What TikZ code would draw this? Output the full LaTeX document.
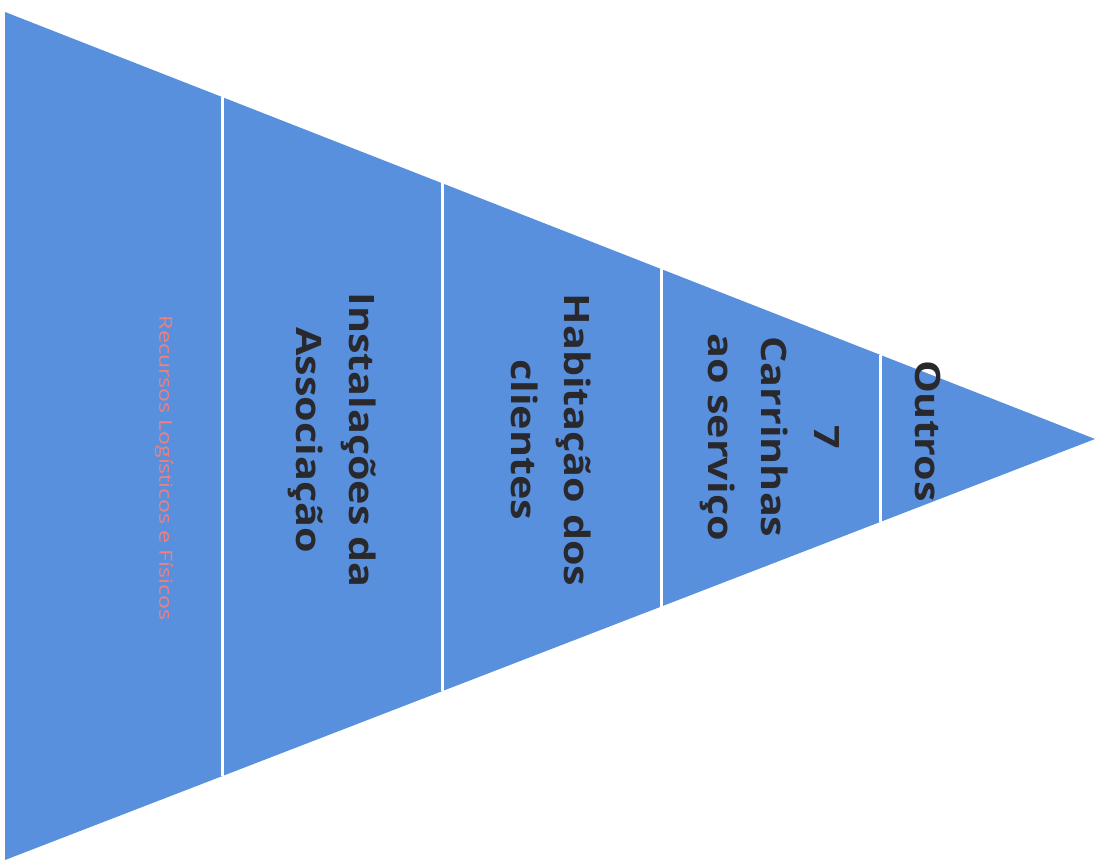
\documentclass[tikz,border=0pt]{standalone}
\usepackage{fontspec}
\setmainfont{Open Sans}
\newfontfamily\funnelfont[FakeStretch=1.18]{Open Sans}
\newfontfamily\notefont[FakeStretch=1.28]{Open Sans}
\definecolor{funnelblue}{RGB}{88,144,222}
\definecolor{labelgray}{RGB}{40,40,45}
\definecolor{salmon}{RGB}{240,128,128}
\begin{document}
\begin{tikzpicture}[x=0.5pt, y=-0.5pt,
    level/.style={rotate=-90, align=center, text=labelgray, inner sep=0pt,
        font=\funnelfont\bfseries\fontsize{17.5}{26.5}\selectfont},
    sepline/.style={white, line width=1.5pt}]
            \useasboundingbox (0,0) rectangle (1096,861);

            \coordinate (topleft) at (5,12);
            \coordinate (botleft) at (5,860);
            \coordinate (apex) at (1095,439);
            \fill[funnelblue] (topleft) -- (apex) -- (botleft) -- cycle;

            \draw[sepline] (222,97) -- (222,776);
            \draw[sepline] (442,183) -- (442,691);
            \draw[sepline] (661,269) -- (661,607);
            \draw[sepline] (880,355) -- (880,522);

            \node[rotate=-90, text=salmon, inner sep=0pt,
                font=\notefont\fontsize{9}{11}\selectfont] (recursos) at (164,468)
                {Recursos Logísticos e Físicos};
            \node[level] (instalacoes) at (332,440) {Instalações da\\Associação};
            \node[level] (habitacao) at (551,440) {Habitação dos\\clientes};
            \node[level] (carrinhas) at (770,437) {7\\Carrinhas\\ao serviço};
            \node[level] (outros) at (928,431) {Outros};
        \end{tikzpicture}
\end{document}
